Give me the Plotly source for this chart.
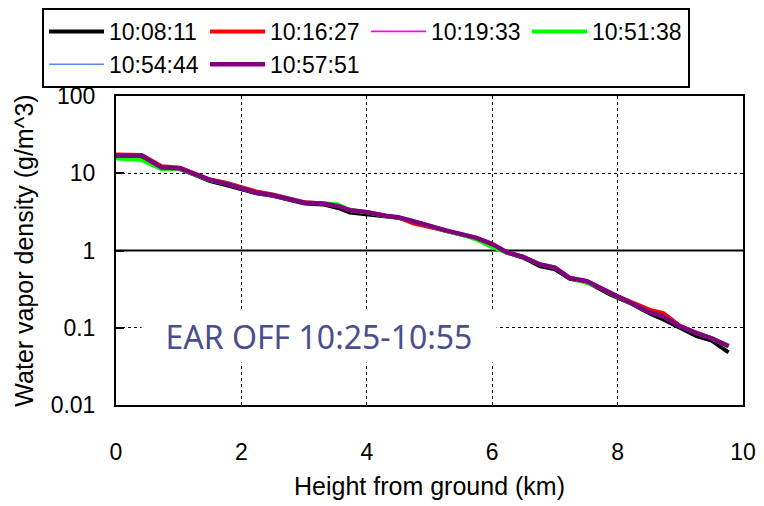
import plotly.graph_objects as go

heights_km = [0.0, 0.41, 0.73, 1.02, 1.26, 1.5, 1.77, 1.98, 2.24, 2.5, 2.78, 3.01, 3.3, 3.54,
              3.73, 4.0, 4.32, 4.5, 4.74, 5.01, 5.26, 5.59, 5.75, 6.01, 6.23, 6.49, 6.76, 7.0,
              7.24, 7.51, 7.72, 7.88, 8.22, 8.52, 8.73, 9.0, 9.26, 9.5, 9.77]

t_101811 = [16.5, 16.2, 11.6, 11.3, 9.5, 7.9, 7.0, 6.2, 5.5, 5.1, 4.5, 4.05, 3.95, 3.55,
            3.1, 2.95, 2.72, 2.65, 2.38, 2.05, 1.80, 1.55, 1.43, 1.18, 0.94, 0.81, 0.63, 0.57,
            0.43, 0.39, 0.32, 0.27, 0.205, 0.152, 0.128, 0.098, 0.078, 0.068, 0.048]
t_101627 = [17.5, 17.2, 12.3, 11.8, 9.9, 8.3, 7.5, 6.7, 5.8, 5.3, 4.7, 4.2, 4.05, 3.75,
            3.35, 3.15, 2.80, 2.68, 2.25, 2.03, 1.80, 1.55, 1.45, 1.19, 0.95, 0.83, 0.66, 0.60,
            0.44, 0.40, 0.33, 0.28, 0.215, 0.170, 0.155, 0.105, 0.086, 0.073, 0.058]
t_101933 = [16.9, 16.7, 11.9, 11.6, 9.7, 8.2, 7.3, 6.5, 5.6, 5.2, 4.6, 4.15, 4.05, 3.78,
            3.35, 3.13, 2.78, 2.70, 2.40, 2.07, 1.82, 1.56, 1.46, 1.20, 0.95, 0.83, 0.66, 0.60,
            0.44, 0.40, 0.33, 0.28, 0.21, 0.158, 0.140, 0.104, 0.085, 0.073, 0.058]
t_105138 = [15.5, 14.8, 11.3, 11.4, 9.6, 8.1, 7.3, 6.5, 5.6, 5.2, 4.6, 4.15, 4.1, 3.95,
            3.35, 3.13, 2.78, 2.70, 2.40, 2.06, 1.80, 1.54, 1.38, 1.10, 0.94, 0.83, 0.66, 0.60,
            0.44, 0.38, 0.33, 0.28, 0.21, 0.158, 0.140, 0.104, 0.085, 0.073, 0.057]
t_105444 = [16.7, 16.6, 11.8, 11.6, 9.7, 8.2, 7.3, 6.5, 5.6, 5.2, 4.6, 4.16, 4.07, 3.76,
            3.33, 3.14, 2.79, 2.70, 2.40, 2.07, 1.82, 1.57, 1.46, 1.20, 0.95, 0.83, 0.66, 0.60,
            0.44, 0.40, 0.33, 0.28, 0.21, 0.158, 0.140, 0.104, 0.085, 0.073, 0.058]
t_105751 = [16.8, 16.8, 11.9, 11.6, 9.7, 8.2, 7.3, 6.5, 5.6, 5.2, 4.6, 4.16, 4.07, 3.76,
            3.33, 3.14, 2.79, 2.70, 2.40, 2.07, 1.82, 1.57, 1.46, 1.20, 0.95, 0.83, 0.66, 0.60,
            0.44, 0.40, 0.33, 0.28, 0.21, 0.158, 0.140, 0.104, 0.085, 0.073, 0.058]

series_names = ["10:08:11", "10:16:27", "10:19:33", "10:51:38", "10:54:44", "10:57:51"]
series_values = [t_101811, t_101627, t_101933, t_105138, t_105444, t_105751]
series_colors = ["#000000", "#ff0000", "#ff00ff", "#00ff00", "#5b86f2", "#800080"]
series_widths = [4, 4, 1.6, 4, 1.6, 4.5]

x_ticks = [0, 2, 4, 6, 8, 10]
y_ticks = [0.01, 0.1, 1, 10, 100]
y_tick_text = ["0.01", "0.1", "1", "10", "100"]

annotation_text = "EAR OFF 10:25-10:55"

fig = go.Figure()
for name, vals, col, w in zip(series_names, series_values, series_colors, series_widths):
    fig.add_trace(go.Scatter(x=heights_km, y=vals, mode="lines", name=name,
                             line=dict(color=col, width=w)))

axis_font = dict(family="Liberation Sans, Arial, sans-serif", size=23, color="#000000")
title_font = dict(family="Liberation Sans, Arial, sans-serif", size=25, color="#000000")

# the page adds an 8px body margin, so the figure is 8px smaller and margins shifted
fig.update_layout(
    width=756, height=498,
    margin=dict(l=108, r=21, t=88, b=101, autoexpand=False),
    paper_bgcolor="white", plot_bgcolor="white",
    font=dict(family="Liberation Sans, Arial, sans-serif", color="#000000"),
    showlegend=True,
    legend=dict(
        orientation="h", x=-0.118, xanchor="left", y=1.285, yanchor="top",
        bgcolor="white", bordercolor="#000000", borderwidth=2,
        font=dict(family="Liberation Sans, Arial, sans-serif", size=23, color="#000000"),
        entrywidth=91, entrywidthmode="pixels", itemwidth=55,
    ),
    xaxis=dict(
        range=[0, 10], tickvals=x_ticks, ticks="", tickfont=axis_font,
        showline=True, linecolor="#000000", linewidth=2, mirror=True,
        showgrid=True, gridcolor="#000000", gridwidth=1, griddash="dot",
        ticklabelstandoff=25, automargin=False,
        title=dict(text="Height from ground (km)", font=title_font, standoff=14),
        zeroline=False,
    ),
    yaxis=dict(
        type="log", range=[-2, 2], tickvals=y_ticks, ticktext=y_tick_text,
        ticks="inside", ticklen=8, tickcolor="#000000", tickwidth=2, tickfont=axis_font,
        showline=True, linecolor="#000000", linewidth=2, mirror=True,
        showgrid=True, gridcolor="#000000", gridwidth=1, griddash="dot",
        ticklabelstandoff=14, automargin=False,
        title=dict(text="Water vapor density (g/m^3)", font=title_font, standoff=10),
    ),
    # x axis crosses the log y axis at 1 (the middle of the [-2, 2] decade range)
    shapes=[dict(type="line", xref="paper", x0=0, x1=1, yref="paper", y0=0.5, y1=0.5,
                 line=dict(color="#000000", width=2), layer="below")],
    annotations=[dict(
        text=annotation_text, x=3.24, y=-1.104, xref="x", yref="y", showarrow=False,
        font=dict(family="Noto Sans, DejaVu Sans, sans-serif", size=32, color="#4a4e8f"),
        bgcolor="white", width=330, height=28, borderpad=12,
    )],
)

fig.write_html("out.html")
